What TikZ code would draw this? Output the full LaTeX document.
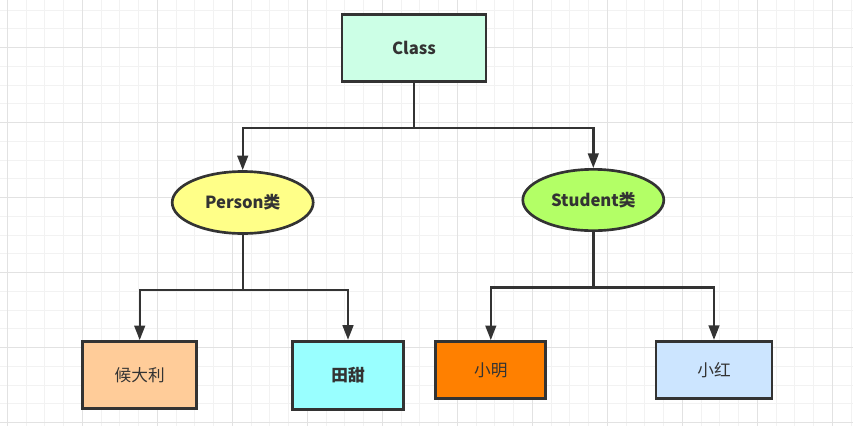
\documentclass[tikz,border=0pt]{standalone}
\usepackage{fontspec}
\setmainfont{Noto Sans CJK SC}
\usepackage{tikz}
\usetikzlibrary{arrows.meta,positioning,shapes.geometric}
\definecolor{inkgray}{HTML}{333333}
\definecolor{gridminor}{HTML}{F2F2F2}
\definecolor{gridmajor}{HTML}{E2E2E2}
\definecolor{classmint}{HTML}{CCFFE6}
\definecolor{personyellow}{HTML}{FFFF88}
\definecolor{studentgreen}{HTML}{B3FF66}
\definecolor{houpeach}{HTML}{FFCC99}
\definecolor{tiancyan}{HTML}{99FFFF}
\definecolor{mingorange}{HTML}{FF8000}
\definecolor{hongblue}{HTML}{CCE5FF}
\tikzset{
  every node/.append style={font=\fontsize{12.5pt}{14pt}\selectfont, text=inkgray},
  box/.style={rectangle, draw=inkgray, line width=2pt, inner sep=2pt},
  oval/.style={ellipse, draw=inkgray, line width=2pt, inner sep=1pt},
  link/.style={draw=inkgray, line width=1.8pt, -{Triangle[length=11pt,width=8pt]}},
}

\begin{document}
\begin{tikzpicture}[
  x=0.75pt, y=-0.75pt,
  header/.style={font=\fontsize{12.5pt}{14pt}\selectfont\bfseries},
  minorline/.style={draw=gridminor, line width=0.75pt},
  majorline/.style={draw=gridmajor, line width=0.75pt}
]
\useasboundingbox (0,0) rectangle (853,426);
\fill[white] (0,0) rectangle (853,426);

% --- Grid paper ---
\foreach \i in {0,...,45} {
  \draw[minorline] (7.3+18.75*\i,0) -- ++(0,426);
}
\foreach \j in {0,...,22} {
  \draw[minorline] (0,10+18.75*\j) -- ++(853,0);
}
\foreach \i in {0,...,11} {
  \draw[majorline] (7.3+75*\i,0) -- ++(0,426);
}
\foreach \j in {-1,...,5} {
  \draw[majorline] (0,47.5+75*\j) -- ++(853,0);
}

% --- Root ---
\node[box, fill=classmint, minimum width=108pt, minimum height=50.25pt, header] (class) at (414,48.3) {Class};

% --- Classes ---
\node[oval, fill=personyellow, minimum width=105.75pt, minimum height=46.5pt, header] (person) at (242.7,202.5) {Person类};
\node[oval, fill=studentgreen, minimum width=105.75pt, minimum height=46pt, header] (student) at (593.3,200) {Student类};

% --- Objects ---
\node[box, fill=houpeach, minimum width=85.5pt, minimum height=50.25pt] (hou) at (139.7,375) {候大利};
\node[box, fill=tiancyan, minimum width=83.25pt, minimum height=51pt, header] (tian) at (348,375.2) {田甜};
\node[box, fill=mingorange, minimum width=82.5pt, minimum height=42.75pt] (ming) at (490.8,370) {小明};
\node[box, fill=hongblue, minimum width=87pt, minimum height=42.75pt] (hong) at (714,369.8) {小红};

% --- Links ---
\draw[link] (class.south) -- ++(0,45) coordinate (forkA) -| (person.north);
\draw[link] (forkA) -| (student.north);
\draw[link] (person.south) -- ++(0,55) coordinate (forkB) -| (hou.north);
\draw[link] (forkB) -| (tian.north);
\draw[link] (student.south) -- ++(0,55.5) coordinate (forkC) -| (ming.north);
\draw[link] (forkC) -| (hong.north);

\end{tikzpicture}
\end{document}
